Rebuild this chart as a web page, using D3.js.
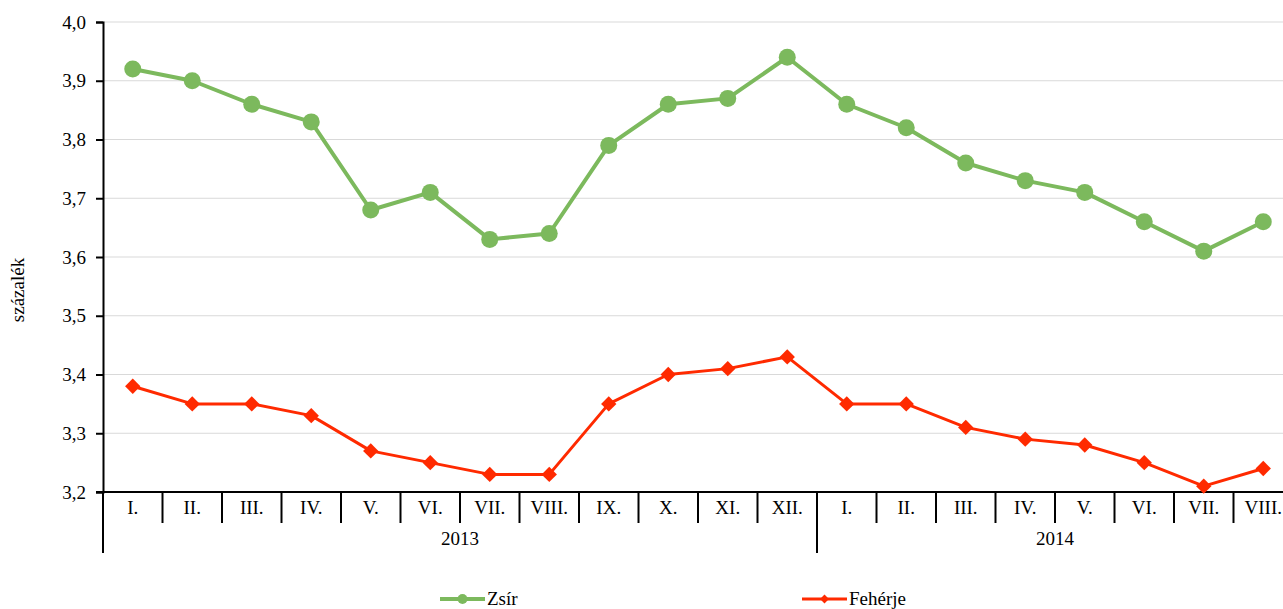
<!DOCTYPE html>
<html>
<head>
<meta charset="utf-8">
<script src="https://d3js.org/d3.v7.min.js"></script>
<style>
  body { margin: 0; background: #fff; }
  svg, svg text { font-family: "Liberation Serif", "Times New Roman", serif !important; fill: #000; }
</style>
</head>
<body>
<div id="chart"></div>
<script>
// months for 2013 (I.-XII.) and 2014 (I.-VIII.)
const months = ["I.", "II.", "III.", "IV.", "V.", "VI.", "VII.", "VIII.", "IX.", "X.", "XI.", "XII.",
                "I.", "II.", "III.", "IV.", "V.", "VI.", "VII.", "VIII."];
const years = [{label: "2013", count: 12}, {label: "2014", count: 8}];
const zsir = [3.92, 3.90, 3.86, 3.83, 3.68, 3.71, 3.63, 3.64, 3.79, 3.86, 3.87, 3.94,
              3.86, 3.82, 3.76, 3.73, 3.71, 3.66, 3.61, 3.66];
const feherje = [3.38, 3.35, 3.35, 3.33, 3.27, 3.25, 3.23, 3.23, 3.35, 3.40, 3.41, 3.43,
                 3.35, 3.35, 3.31, 3.29, 3.28, 3.25, 3.21, 3.24];
const yTicks = [3.2, 3.3, 3.4, 3.5, 3.6, 3.7, 3.8, 3.9, 4.0];

const W = 1283, H = 609;
const plotLeft = 103, plotRight = 1293, plotTop = 22, plotBottom = 492;
const green = "#7cb95d", red = "#ff2a00";
const fontSize = "19px";

const svg = d3.select("#chart").append("svg")
    .attr("width", W).attr("height", H);

const keys = months.map((m, i) => i);
const x = d3.scaleBand().domain(keys).range([plotLeft, plotRight]);
const y = d3.scaleLinear().domain([3.2, 4.0]).range([plotBottom, plotTop]);
const fmt = d => d.toFixed(1).replace(".", ",");

// gridlines
svg.append("g").selectAll("line")
    .data(yTicks.slice(1))
    .join("line")
    .attr("x1", plotLeft).attr("x2", plotRight)
    .attr("y1", d => y(d)).attr("y2", d => y(d))
    .attr("stroke", "#d9d9d9").attr("stroke-width", 1);

// y axis
const yAxis = svg.append("g")
    .attr("transform", `translate(${plotLeft},0)`)
    .call(d3.axisLeft(y).tickValues(yTicks).tickFormat(fmt).tickSize(7).tickPadding(10));
yAxis.attr("font-family", null).attr("font-size", null);
yAxis.select(".domain").attr("stroke", "#000").attr("stroke-width", 2);
yAxis.selectAll(".tick line").attr("stroke", "#000").attr("stroke-width", 2);
yAxis.selectAll(".tick text").style("font-size", fontSize);
// extend y axis line down through category area
svg.append("line").attr("x1", plotLeft).attr("x2", plotLeft)
    .attr("y1", plotBottom).attr("y2", 553)
    .attr("stroke", "#000").attr("stroke-width", 2);

// x axis baseline
svg.append("line").attr("x1", plotLeft - 7).attr("x2", plotRight)
    .attr("y1", plotBottom).attr("y2", plotBottom)
    .attr("stroke", "#000").attr("stroke-width", 2);

// category separators
svg.append("g").selectAll("line")
    .data(keys.slice(1))
    .join("line")
    .attr("x1", d => x(d)).attr("x2", d => x(d))
    .attr("y1", plotBottom).attr("y2", 523)
    .attr("stroke", "#000").attr("stroke-width", 2);

// month labels
svg.append("g").selectAll("text")
    .data(keys)
    .join("text")
    .attr("x", d => x(d) + x.bandwidth() / 2)
    .attr("y", 514)
    .attr("text-anchor", "middle")
    .style("font-size", fontSize)
    .text(d => months[d]);

// year groups
let start = 0;
years.forEach((yr, i) => {
  const x0 = x(start);
  const x1 = start + yr.count < keys.length ? x(start + yr.count) : plotRight;
  if (i > 0) {
    svg.append("line").attr("x1", x0).attr("x2", x0)
        .attr("y1", plotBottom).attr("y2", 553)
        .attr("stroke", "#000").attr("stroke-width", 2);
  }
  svg.append("text")
      .attr("x", (x0 + x1) / 2).attr("y", 545)
      .attr("text-anchor", "middle")
      .style("font-size", fontSize)
      .text(yr.label);
  start += yr.count;
});

// y axis title
svg.append("text")
    .attr("transform", `translate(24,290) rotate(-90)`)
    .attr("text-anchor", "middle")
    .style("font-size", fontSize)
    .text("százalék");

const cx = i => x(i) + x.bandwidth() / 2;
const line = d3.line().x((d, i) => cx(i)).y(d => y(d));

// Zsír series
svg.append("path").datum(zsir)
    .attr("d", line).attr("fill", "none")
    .attr("stroke", green).attr("stroke-width", 4).attr("stroke-linejoin", "round");
svg.append("g").selectAll("circle")
    .data(zsir)
    .join("circle")
    .attr("cx", (d, i) => cx(i)).attr("cy", d => y(d))
    .attr("r", 8.5).attr("fill", green);

// Fehérje series
svg.append("path").datum(feherje)
    .attr("d", line).attr("fill", "none")
    .attr("stroke", red).attr("stroke-width", 3).attr("stroke-linejoin", "round");
svg.append("g").selectAll("path.dm")
    .data(feherje)
    .join("path")
    .attr("class", "dm")
    .attr("d", d3.symbol().type(d3.symbolDiamond2).size(150))
    .attr("transform", (d, i) => `translate(${cx(i)},${y(d)})`)
    .attr("fill", red);

// legend
const legend = [
  {name: "Zsír", color: green, x: 440, sym: "circle", w: 4},
  {name: "Fehérje", color: red, x: 802, sym: "diamond", w: 3}
];
legend.forEach(l => {
  const g = svg.append("g").attr("transform", `translate(${l.x},599)`);
  g.append("line").attr("x1", 0).attr("x2", 45).attr("y1", 0).attr("y2", 0)
      .attr("stroke", l.color).attr("stroke-width", l.w);
  if (l.sym === "circle") {
    g.append("circle").attr("cx", 22.5).attr("cy", 0).attr("r", 5).attr("fill", l.color);
  } else {
    g.append("path").attr("d", d3.symbol().type(d3.symbolDiamond2).size(50))
        .attr("transform", "translate(22.5,0)").attr("fill", l.color);
  }
  g.append("text").attr("x", 47).attr("y", 6)
      .style("font-size", fontSize).text(l.name);
});
</script>
</body>
</html>
